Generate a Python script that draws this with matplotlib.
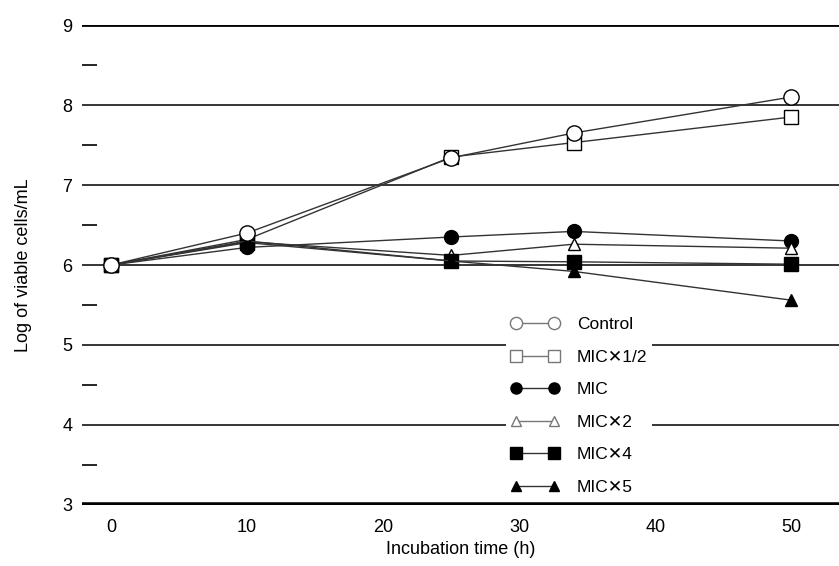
import matplotlib
matplotlib.use("Agg")
import matplotlib.pyplot as plt

plt.rcParams["font.family"] = ["Liberation Sans", "DejaVu Sans"]

hours = [0, 10, 25, 34, 50]
control = [6.0, 6.40, 7.34, 7.65, 8.10]
mic_half = [6.0, 6.32, 7.35, 7.53, 7.85]
mic = [6.0, 6.22, 6.35, 6.42, 6.30]
mic_x2 = [6.0, 6.29, 6.12, 6.26, 6.21]
mic_x4 = [6.0, 6.28, 6.05, 6.04, 6.01]
mic_x5 = [6.0, 6.30, 6.05, 5.92, 5.56]

labels = ["Control", "MIC\u27151/2", "MIC", "MIC\u27152", "MIC\u27154", "MIC\u27155"]
series = [control, mic_half, mic, mic_x2, mic_x4, mic_x5]
markers = ["o", "s", "o", "^", "s", "^"]
faces = ["white", "white", "black", "white", "black", "black"]
sizes = [11, 10, 10, 9, 10, 9]

y_major = [3, 4, 5, 6, 7, 8, 9]
y_minor = [3.5, 4.5, 5.5, 6.5, 7.5, 8.5]
x_ticks = [0, 10, 20, 30, 40, 50]

fig = plt.figure(figsize=(8.39, 5.66), dpi=100)
ax = fig.add_axes([0.0977, 0.1078, 0.9023, 0.848])

# horizontal rules
for y in y_major:
    lw = 1.1
    if y == 9:
        lw = 2.0
    if y == 3:
        lw = 4.0
    ax.axhline(y, color="black", lw=lw, zorder=1)

order = [9, 3, 2, 4, 5, 6]
for i in range(len(series)):
    ax.plot(hours, series[i], color="#333333", lw=1.0,
            marker=markers[i], markersize=sizes[i],
            markerfacecolor=faces[i], markeredgecolor="black",
            markeredgewidth=1.0, label=labels[i], zorder=3 + order[i])

for s in ax.spines.values():
    s.set_visible(False)

ax.set_xlim(-2.13, 53.5)
ax.set_ylim(3, 9)
ax.set_xticks(x_ticks)
ax.set_yticks(y_major)
ax.set_yticks(y_minor, minor=True)
ax.tick_params(axis="x", length=0, pad=10, labelsize=13)
ax.tick_params(axis="y", which="major", length=0, pad=7, labelsize=13)
ax.tick_params(axis="y", which="minor", direction="in", length=11, width=1.2)

ax.set_xlabel("Incubation time (h)", fontsize=13, labelpad=4)
ax.set_ylabel("Log of viable cells/mL", fontsize=13, labelpad=22)

leg = ax.legend(loc="upper left", bbox_to_anchor=(0.548, 0.42), numpoints=2,
                handlelength=2.8, handletextpad=1.0, labelspacing=1.0,
                fontsize=12.5, frameon=True, fancybox=False, markerscale=0.8,
                facecolor="white", edgecolor="none", framealpha=1.0,
                borderpad=0.3)
leg.set_zorder(20)
for i, h in enumerate(leg.legend_handles):
    if faces[i] == "white":
        h.set_markeredgecolor("#777777")
        h.set_color("#777777")
        h.set_markerfacecolor("white")

fig.savefig("out.png", dpi=100)
